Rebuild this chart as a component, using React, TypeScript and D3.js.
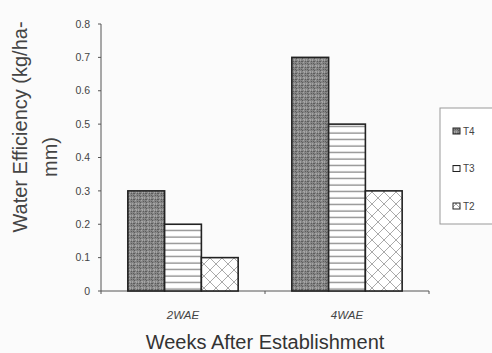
import React from "react";
import * as d3 from "d3";

const categories = ["2WAE", "4WAE"];
const seriesNames = ["T4", "T3", "T2"];
const T4 = [0.3, 0.7];
const T3 = [0.2, 0.5];
const T2 = [0.1, 0.3];
const yTicks = [0, 0.1, 0.2, 0.3, 0.4, 0.5, 0.6, 0.7, 0.8];

const W = 492;
const H = 353;
const left = 101;
const right = 429;
const top = 24;
const bottom = 291;

export default function App() {
  const x = d3.scaleBand().domain(categories).range([left, right]).paddingInner(0).paddingOuter(0);
  const inner = d3.scaleBand().domain(seriesNames).range([0, x.bandwidth()]).paddingInner(0).paddingOuter(0.73);
  const y = d3.scaleLinear().domain([0, 0.8]).range([bottom, top]);
  const data: Record<string, number[]> = { T4, T3, T2 };
  const fills: Record<string, string> = { T4: "url(#pStip)", T3: "url(#pHoriz)", T2: "url(#pCross)" };
  const font = "Arial, 'Liberation Sans', sans-serif";

  const stipDots: [number, number][] = [
    [0, 0], [2, 1], [4, 0], [1, 3], [3, 2], [5, 3], [0, 5], [2, 4], [4, 5], [1, 1], [3, 5], [5, 1],
  ];

  return (
    <svg width={W} height={H} style={{ position: "absolute", left: 0, top: 0, background: "#fbfbfb" }} fontFamily={font}>
      <defs>
        <pattern id="pStip" width="6" height="6" patternUnits="userSpaceOnUse">
          <rect width="6" height="6" fill="#858585" />
          {stipDots.map(([a, b], i) => (
            <rect key={i} x={a} y={b} width="1" height="1" fill={i % 2 ? "#5c5c5c" : "#a5a5a5"} />
          ))}
        </pattern>
        <pattern id="pHoriz" width="6" height="6.5" patternUnits="userSpaceOnUse">
          <rect width="6" height="6.5" fill="#fff" />
          <line x1="0" x2="6" y1="3" y2="3" stroke="#666" strokeWidth="1" />
        </pattern>
        <pattern id="pCross" width="12" height="12" patternUnits="userSpaceOnUse">
          <rect width="12" height="12" fill="#fff" />
          <path d="M0,0L12,12M12,0L0,12" stroke="#aaa" strokeWidth="1" />
        </pattern>
      </defs>

      {/* Y axis */}
      <line x1={left} x2={left} y1={top} y2={bottom} stroke="#555" strokeWidth="1" />
      {yTicks.map((t) => (
        <g key={t}>
          <line x1={left - 3} x2={left} y1={y(t)} y2={y(t)} stroke="#555" />
          <text x={left - 11} y={y(t)} dy="0.35em" textAnchor="end" fontSize="10.5" fill="#444">
            {t === 0 ? "0" : t.toFixed(1)}
          </text>
        </g>
      ))}

      {/* X axis */}
      <line x1={left} x2={right} y1={bottom} y2={bottom} stroke="#555" strokeWidth="1" />
      {[left, ...categories.map((c) => (x(c) as number) + x.bandwidth())].map((v, i) => (
        <line key={i} x1={v} x2={v} y1={bottom} y2={bottom + 3} stroke="#555" />
      ))}

      {/* Bars */}
      {categories.map((c, ci) => (
        <g key={c}>
          {seriesNames.map((s) => {
            const bx = (x(c) as number) + (inner(s) as number);
            const by = y(data[s][ci]);
            return (
              <rect
                key={s}
                x={bx}
                y={by}
                width={inner.bandwidth()}
                height={bottom - by}
                fill={fills[s]}
                stroke="#222"
                strokeWidth="1.6"
              />
            );
          })}
          <text
            x={(x(c) as number) + x.bandwidth() / 2}
            y={319}
            textAnchor="middle"
            fontSize="11.5"
            fontStyle="italic"
            fill="#444"
          >
            {c}
          </text>
        </g>
      ))}

      {/* Axis titles */}
      <text x={(left + right) / 2} y={349} textAnchor="middle" fontSize="20" fill="#333">
        Weeks After Establishment
      </text>
      <text transform="translate(27,127) rotate(-90)" textAnchor="middle" fontSize="20" fill="#444">
        Water Efficiency (kg/ha-
      </text>
      <text transform="translate(57,157) rotate(-90)" textAnchor="middle" fontSize="20" fill="#444">
        mm)
      </text>

      {/* Legend */}
      <rect x={440} y={108} width={60} height={116} fill="#fff" stroke="#999" strokeWidth="1" />
      {seriesNames.map((s, i) => {
        const ly = 131 + i * 37.5;
        return (
          <g key={s}>
            <rect x={453} y={ly - 3} width={7} height={6} fill={fills[s]} stroke="#222" strokeWidth="1" />
            <text x={463} y={ly} dy="0.35em" fontSize="10" fill="#444">
              {s}
            </text>
          </g>
        );
      })}
    </svg>
  );
}
